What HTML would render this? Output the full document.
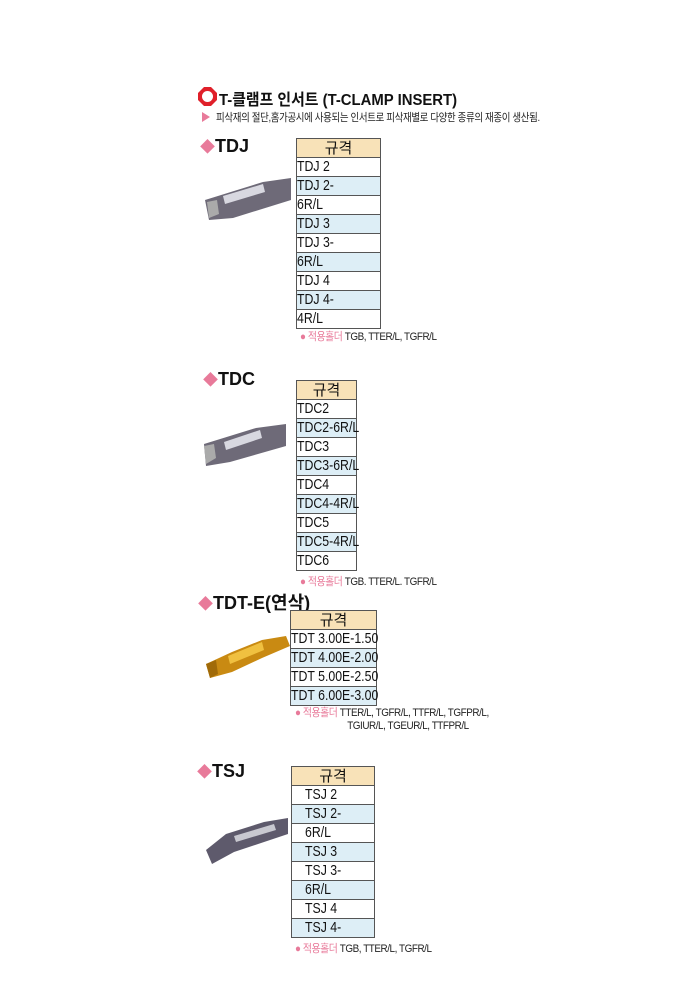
<!DOCTYPE html>
<html><head><meta charset="utf-8"><style>
body{margin:0;background:#fff;width:700px;height:992px;position:relative;overflow:hidden;font-family:"Liberation Sans","Noto Sans CJK KR",sans-serif;}
.a{position:absolute;}
.t{position:absolute;}
.t div{box-sizing:border-box;border:1px solid #555;border-top:none;height:19px;line-height:18px;font-size:15px;color:#111;white-space:nowrap;overflow:visible;}
.t div span{display:inline-block;transform:scaleX(.82);transform-origin:left center;}
.t .h{background:#f8e2b8;border-top:1px solid #555;text-align:center;height:20px;line-height:19px;font-size:15px;}
.t .b{background:#ddeef6;}
.hd{font-weight:bold;font-size:18px;color:#111;}
.hd i{font-style:normal;color:#e87a9a;font-size:15px;}
.note{font-size:11px;color:#222;letter-spacing:-.5px;transform:scaleX(.9);transform-origin:left top;white-space:nowrap;}
.note b{font-weight:normal;color:#e87a9a;}
</style></head><body>
<svg class="a" style="left:198px;top:87px" width="19" height="19"><polygon points="6,0 13,0 19,6 19,13 13,19 6,19 0,13 0,6" fill="#e0202a"/><circle cx="9.5" cy="9.5" r="5.5" fill="#fff"/></svg>
<div class="a" style="left:219px;top:86px;font-size:16px;font-weight:bold;color:#111;transform:scaleX(.93);transform-origin:left top;white-space:nowrap">T-클램프 인서트 (T-CLAMP INSERT)</div>
<div class="a" style="left:202px;top:112px;width:0;height:0;border-left:8px solid #e87a9a;border-top:5px solid transparent;border-bottom:5px solid transparent"></div>
<div class="a" style="left:216px;top:109px;font-size:11px;color:#222;letter-spacing:-.4px;transform:scaleX(.86);transform-origin:left top;white-space:nowrap">피삭재의 절단,홈가공시에 사용되는 인서트로 피삭재별로 다양한 종류의 재종이 생산됨.</div>

<div class="a hd" style="left:200px;top:136px"><i>◆</i>TDJ</div>
<svg class="a" style="left:203px;top:174px" width="90" height="52"><polygon points="2,26 60,8 88,4 88,26 30,44 6,46" fill="#6e6a78"/><polygon points="20,22 60,10 62,18 22,30" fill="#d8d8e0"/><polygon points="4,28 14,26 16,40 6,44" fill="#aaa"/></svg>
<div class="t" style="left:296px;top:138px;width:85px">
<div class="h">규격</div><div><span>TDJ 2</span></div><div class="b"><span>TDJ 2-</span></div><div><span>6R/L</span></div><div class="b"><span>TDJ 3</span></div><div><span>TDJ 3-</span></div><div class="b"><span>6R/L</span></div><div><span>TDJ 4</span></div><div class="b"><span>TDJ 4-</span></div><div><span>4R/L</span></div></div>
<div class="a note" style="left:300px;top:328px"><b>● 적용홀더</b> TGB, TTER/L, TGFR/L</div>

<div class="a hd" style="left:203px;top:369px"><i>◆</i>TDC</div>
<svg class="a" style="left:200px;top:420px" width="90" height="50"><polygon points="4,24 56,8 86,4 86,26 30,42 6,46" fill="#6e6a78"/><polygon points="24,22 60,10 62,18 26,30" fill="#d8d8e0"/><polygon points="4,26 14,24 16,38 6,44" fill="#aaa"/></svg>
<div class="t" style="left:296px;top:380px;width:61px">
<div class="h">규격</div><div><span>TDC2</span></div><div class="b"><span>TDC2-6R/L</span></div><div><span>TDC3</span></div><div class="b"><span>TDC3-6R/L</span></div><div><span>TDC4</span></div><div class="b"><span>TDC4-4R/L</span></div><div><span>TDC5</span></div><div class="b"><span>TDC5-4R/L</span></div><div><span>TDC6</span></div></div>
<div class="a note" style="left:300px;top:573px"><b>● 적용홀더</b> TGB. TTER/L. TGFR/L</div>

<div class="a hd" style="left:198px;top:589px"><i>◆</i>TDT-E(연삭)</div>
<svg class="a" style="left:202px;top:630px" width="90" height="52"><polygon points="4,34 30,22 60,10 84,6 88,16 60,28 30,42 8,48" fill="#c98a12"/><polygon points="26,26 60,12 62,20 28,34" fill="#f0c040"/><polygon points="4,34 14,30 16,44 8,48" fill="#a06a08"/></svg>
<div class="t" style="left:290px;top:610px;width:87px">
<div class="h">규격</div><div><span>TDT 3.00E-1.50</span></div><div class="b"><span>TDT 4.00E-2.00</span></div><div><span>TDT 5.00E-2.50</span></div><div class="b"><span>TDT 6.00E-3.00</span></div></div>
<div class="a note" style="left:295px;top:707px;line-height:13px"><b>● 적용홀더</b> TTER/L, TGFR/L, TTFR/L, TGFPR/L,<br><span style="padding-left:58px">TGIUR/L, TGEUR/L, TTFPR/L</span></div>

<div class="a hd" style="left:197px;top:761px"><i>◆</i>TSJ</div>
<svg class="a" style="left:204px;top:810px" width="86" height="56"><polygon points="2,40 22,24 60,12 84,8 84,24 30,42 8,54" fill="#5e5a6c"/><polygon points="30,26 70,14 72,20 32,32" fill="#c8c8d0"/></svg>
<div class="t" style="left:291px;top:766px;width:84px">
<div class="h">규격</div><div style="padding-left:13px"><span>TSJ 2</span></div><div class="b" style="padding-left:13px"><span>TSJ 2-</span></div><div style="padding-left:13px"><span>6R/L</span></div><div class="b" style="padding-left:13px"><span>TSJ 3</span></div><div style="padding-left:13px"><span>TSJ 3-</span></div><div class="b" style="padding-left:13px"><span>6R/L</span></div><div style="padding-left:13px"><span>TSJ 4</span></div><div class="b" style="padding-left:13px"><span>TSJ 4-</span></div></div>
<div class="a note" style="left:295px;top:940px"><b>● 적용홀더</b> TGB, TTER/L, TGFR/L</div>
</body></html>
